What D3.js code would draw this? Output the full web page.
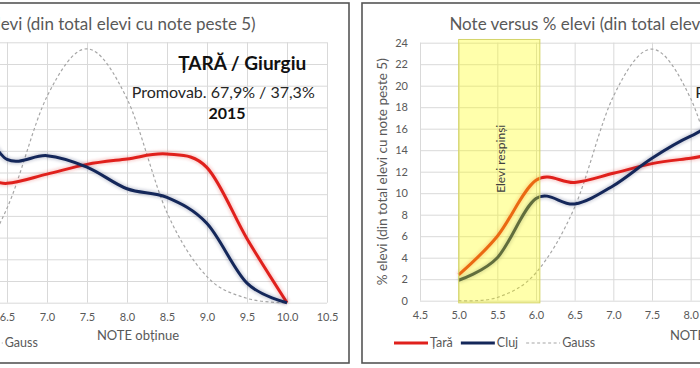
<!DOCTYPE html>
<html>
<head>
<meta charset="utf-8">
<script src="https://cdn.jsdelivr.net/npm/d3@7"></script>
<style>
  body { margin: 0; background: #fff; }
  svg { display: block; font-family: Lato, "Open Sans", sans-serif; }
</style>
</head>
<body>
<svg id="chart" width="700" height="368"></svg>
<script>
// note bins (x) and % of students per bin (y)
const noteValues = [5.0, 5.5, 6.0, 6.5, 7.0, 7.5, 8.0, 8.5, 9.0, 9.5, 10.0];
const taraValues = [2.4, 6.0, 11.2, 11.0, 11.85, 12.75, 13.25, 13.7, 12.45, 5.9, 0];
const giurgiuValues = [5.0, 9.5, 17.0, 13.2, 13.55, 12.5, 10.5, 9.7, 7.3, 1.8, 0];
const clujValues = [1.9, 4.0, 9.5, 9.0, 10.7, 13.25, 15.3, 16.5, 12.5, 7.3, 0];
const gaussValues = [0, 0.3, 2.6, 8.7, 19.0, 23.4, 18.8, 8.3, 2.4, 0.4, 0];

const xTickValues = [4.5, 5.0, 5.5, 6.0, 6.5, 7.0, 7.5, 8.0, 8.5, 9.0, 9.5, 10.0, 10.5];
const yTickValues = [0, 2, 4, 6, 8, 10, 12, 14, 16, 18, 20, 22, 24];
const failBand = [5.0, 6.05];

const chartTitle = "Note versus % elevi (din total elevi cu note peste 5)";
const yTitle = "% elevi (din total elevi cu note peste 5)";
const xTitle = "NOTE obținue";

const RED = "#e0201c";
const NAVY = "#14275a";
const GREY = "#595959";

const svg = d3.select("#chart");

const defs = svg.append("defs");
defs.append("filter")
  .attr("id", "glow")
  .attr("x", "-10%").attr("y", "-10%")
  .attr("width", "120%").attr("height", "120%")
  .append("feGaussianBlur")
  .attr("stdDeviation", 1.5);

function drawChart(cfg) {
  const g = svg.append("g");
  const x = d3.scaleLinear().domain([4.5, 10.5]).range(cfg.plotX);
  const y = d3.scaleLinear().domain([0, 24]).range(cfg.plotY);
  const plotW = cfg.plotX[1] - cfg.plotX[0];
  const plotH = cfg.plotY[0] - cfg.plotY[1];

  // frame
  g.append("rect")
    .attr("x", cfg.frameX)
    .attr("y", 3)
    .attr("width", 560)
    .attr("height", 360)
    .attr("fill", "#fff")
    .attr("stroke", "#555")
    .attr("stroke-width", 1.6);

  // title
  g.append("text")
    .attr("x", cfg.frameX + 277)
    .attr("y", 30)
    .attr("text-anchor", "middle")
    .attr("fill", GREY)
    .attr("font-size", "17px")
    .text(chartTitle);

  // y axis + horizontal grid
  g.append("g")
    .attr("transform", `translate(${cfg.plotX[0]},0)`)
    .call(d3.axisLeft(y).tickValues(yTickValues).tickSize(-plotW).tickPadding(12))
    .call((a) => a.select(".domain").remove())
    .call((a) => a.selectAll(".tick line").attr("stroke", "#d9d9d9"))
    .call((a) =>
      a.selectAll(".tick text")
        .attr("fill", GREY)
        .attr("font-size", "11px")
        .attr("font-family", "Lato, sans-serif")
    );

  // x axis + vertical grid
  g.append("g")
    .attr("transform", `translate(0,${cfg.plotY[0]})`)
    .call(
      d3.axisBottom(x)
        .tickValues(xTickValues)
        .tickFormat(d3.format(".1f"))
        .tickSize(-plotH)
        .tickPadding(11)
    )
    .call((a) => a.select(".domain").remove())
    .call((a) => a.selectAll(".tick line").attr("stroke", "#d9d9d9"))
    .call((a) =>
      a.selectAll(".tick text")
        .attr("fill", GREY)
        .attr("font-size", "11px")
        .attr("font-family", "Lato, sans-serif")
    );

  // axis titles
  g.append("text")
    .attr("transform", `translate(${cfg.frameX + 25},${(cfg.plotY[0] + cfg.plotY[1]) / 2}) rotate(-90)`)
    .attr("text-anchor", "middle")
    .attr("fill", GREY)
    .attr("font-size", "13.5px")
    .text(yTitle);

  g.append("text")
    .attr("x", cfg.frameX + 349)
    .attr("y", 340)
    .attr("text-anchor", "middle")
    .attr("fill", GREY)
    .attr("font-size", "13px")
    .text(xTitle);

  const line = d3
    .line()
    .x((d) => x(d.note))
    .y((d) => y(d.value))
    .curve(d3.curveCardinal.tension(0));

  const toPoints = (vals) => noteValues.map((n, i) => ({ note: n, value: vals[i] }));

  // gauss reference
  g.append("path")
    .datum(toPoints(gaussValues))
    .attr("d", line)
    .attr("fill", "none")
    .attr("stroke", "#a6a6a6")
    .attr("stroke-width", 1.2)
    .attr("stroke-dasharray", "3,2.5");

  // main series, with soft halo
  const series = [
    { name: "Țară", values: taraValues, color: RED },
    { name: cfg.county, values: cfg.countyValues, color: NAVY },
  ];
  series.forEach((s) => {
    g.append("path")
      .datum(toPoints(s.values))
      .attr("d", line)
      .attr("fill", "none")
      .attr("stroke", s.color)
      .attr("stroke-width", 6)
      .attr("opacity", 0.2)
      .attr("filter", "url(#glow)");
    g.append("path")
      .datum(toPoints(s.values))
      .attr("d", line)
      .attr("fill", "none")
      .attr("stroke", s.color)
      .attr("stroke-width", 3)
      .attr("stroke-linejoin", "round");
  });

  // yellow band for failed students, drawn over the lines
  g.append("rect")
    .attr("x", x(failBand[0]))
    .attr("y", y(24.3))
    .attr("width", x(failBand[1]) - x(failBand[0]))
    .attr("height", y(-0.2) - y(24.3))
    .attr("fill", "#ffff00")
    .attr("fill-opacity", 0.33)
    .attr("stroke", "#d4d46a")
    .attr("stroke-width", 1);

  g.append("text")
    .attr("transform", `translate(${x((failBand[0] + failBand[1]) / 2) + 6},${y(13.2)}) rotate(-90)`)
    .attr("text-anchor", "middle")
    .attr("fill", "#404040")
    .attr("font-size", "12px")
    .text("Elevi respinși");

  // annotation block
  g.append("text")
    .attr("x", x(9.44))
    .attr("y", y(21.45))
    .attr("text-anchor", "middle")
    .attr("font-weight", "bold")
    .attr("font-size", "19px")
    .attr("fill", "#111")
    .text(cfg.header);

  g.append("text")
    .attr("x", x(8.06))
    .attr("y", y(18.9))
    .attr("font-size", "16px")
    .attr("fill", "#262626")
    .text(cfg.promo);

  g.append("text")
    .attr("x", x(9.25))
    .attr("y", y(16.93))
    .attr("text-anchor", "middle")
    .attr("font-weight", "bold")
    .attr("font-size", "16px")
    .attr("fill", "#111")
    .text("2015");

  // legend
  const legendItems = [
    { name: "Țară", color: RED, width: 3, dash: null },
    { name: cfg.county, color: NAVY, width: 3, dash: null },
    { name: "Gauss", color: "#a6a6a6", width: 1.2, dash: "3,2.5" },
  ];
  let lx = cfg.legendX;
  const ly = 343;
  legendItems.forEach((it) => {
    g.append("line")
      .attr("x1", lx)
      .attr("x2", lx + 34)
      .attr("y1", ly)
      .attr("y2", ly)
      .attr("stroke", it.color)
      .attr("stroke-width", it.width)
      .attr("stroke-dasharray", it.dash);
    const t = g.append("text")
      .attr("x", lx + 36)
      .attr("y", ly)
      .attr("dy", "0.35em")
      .attr("fill", GREY)
      .attr("font-size", "12.5px")
      .text(it.name);
    lx += 36 + t.node().getComputedTextLength() + 8;
  });
}

drawChart({
  frameX: -211,
  plotX: [-153, 327],
  plotY: [302.7, 42.3],
  county: "Giurgiu",
  countyValues: giurgiuValues,
  header: "ȚARĂ / Giurgiu",
  promo: "Promovab. 67,9% / 37,3%",
  legendX: -182,
});

drawChart({
  frameX: 362,
  plotX: [420, 884],
  plotY: [300.7, 42.7],
  county: "Cluj",
  countyValues: clujValues,
  header: "ȚARĂ / Cluj",
  promo: "Promovab. 67,9%",
  legendX: 394,
});
</script>
</body>
</html>
